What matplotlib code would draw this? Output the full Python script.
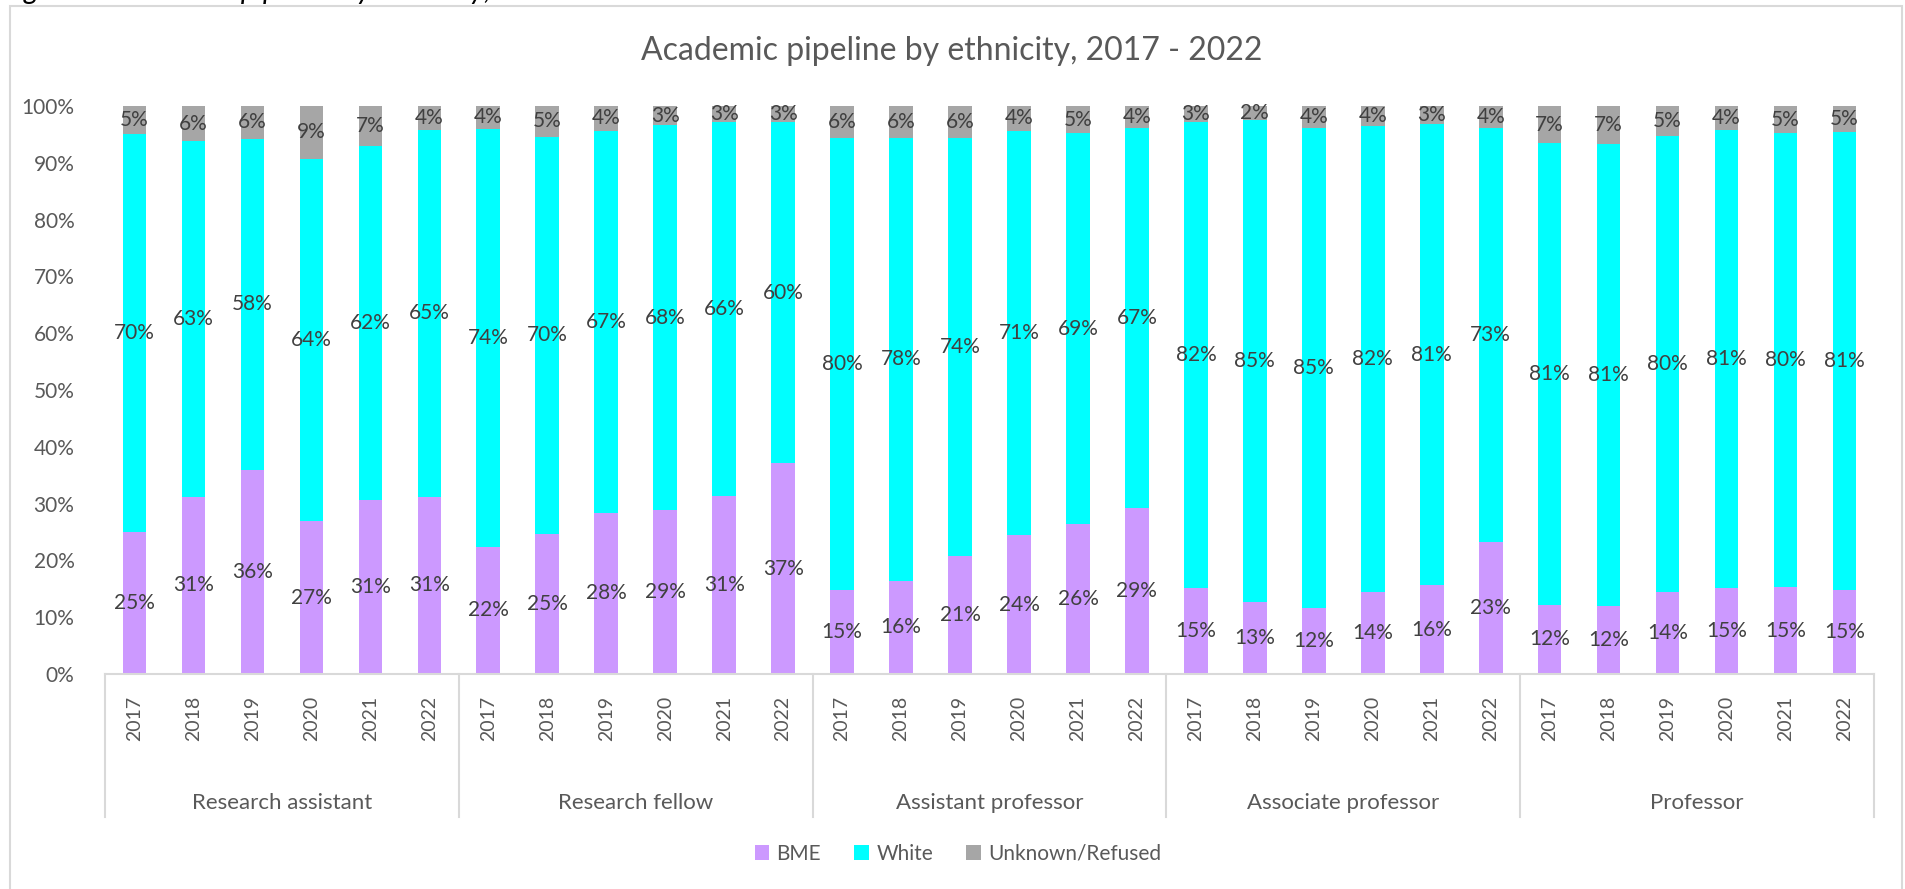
import matplotlib
matplotlib.use("Agg")
import matplotlib.pyplot as plt
from matplotlib.patches import Rectangle, Patch
from matplotlib.lines import Line2D
import numpy as np

plt.rcParams['font.family'] = ['Lato', 'DejaVu Sans']

# ---------------- data ----------------
groups = ["Research assistant", "Research fellow", "Assistant professor",
          "Associate professor", "Professor"]
years = ["2017", "2018", "2019", "2020", "2021", "2022"]
series_names = ["BME", "White", "Unknown/Refused"]

bme = [25.0, 31.2, 36.0, 26.9, 30.7, 31.2,
       22.4, 24.6, 28.4, 28.9, 31.4, 37.1,
       14.8, 16.4, 20.8, 24.4, 26.4, 29.3,
       15.2, 12.6, 11.6, 14.4, 15.6, 23.3,
       12.2, 12.0, 14.4, 15.2, 15.3, 14.8]
white = [70.1, 62.6, 58.2, 63.8, 62.2, 64.6,
         73.6, 70.0, 67.2, 67.7, 65.8, 60.0,
         79.6, 78.0, 73.6, 71.2, 68.8, 66.9,
         81.9, 85.0, 84.6, 82.0, 81.2, 72.9,
         81.2, 81.3, 80.4, 80.6, 79.9, 80.6]
unknown = [4.9, 6.2, 5.8, 9.3, 7.1, 4.2,
           4.0, 5.4, 4.4, 3.4, 2.8, 2.9,
           5.6, 5.6, 5.6, 4.4, 4.8, 3.8,
           2.9, 2.4, 3.8, 3.6, 3.2, 3.8,
           6.6, 6.7, 5.2, 4.2, 4.8, 4.6]

colors = ["#CC99FF", "#00FFFF", "#A6A6A6"]
axis_text = "#595959"
label_text = "#404040"
line_col = "#D9D9D9"

# ---------------- figure ----------------
W, H = 1905, 889
fig = plt.figure(figsize=(W / 100, H / 100), dpi=100)

def fx(px):
    return px / W

def fy(py):
    return 1 - py / H

ax_l, ax_r, ax_t, ax_b = 105, 1874, 106, 674
ax = fig.add_axes([fx(ax_l), fy(ax_b), fx(ax_r) - fx(ax_l), fy(ax_t) - fy(ax_b)])

n = len(bme)
x = np.arange(n)
bw = 0.4
b_arr = np.array(bme)
w_arr = np.array(white)
u_arr = np.array(unknown)

ax.bar(x, b_arr, bw, color=colors[0], zorder=2)
ax.bar(x, w_arr, bw, bottom=b_arr, color=colors[1], zorder=2)
ax.bar(x, u_arr, bw, bottom=b_arr + w_arr, color=colors[2], zorder=2)

lab_fs = 15
for i in range(n):
    for val, base in ((b_arr[i], 0), (w_arr[i], b_arr[i]), (u_arr[i], b_arr[i] + w_arr[i])):
        ax.text(x[i], base + val / 2, f"{val:.0f}%", ha="center", va="center",
                fontsize=lab_fs, color=label_text, zorder=3)

ax.set_xlim(-0.5, n - 0.5)
ax.set_ylim(0, 100)
ax.set_yticks(np.arange(0, 101, 10))
ax.set_yticklabels([f"{v}%" for v in range(0, 101, 10)], fontsize=15, color=axis_text)
ax.tick_params(axis="y", length=0, pad=22)
ax.set_xticks(x)
ax.set_xticklabels(years * len(groups), rotation=90, fontsize=14, color=axis_text)
ax.tick_params(axis="x", length=0, pad=16)
for s in ("top", "right", "left"):
    ax.spines[s].set_visible(False)
ax.spines["bottom"].set_color(line_col)
ax.spines["bottom"].set_linewidth(1.5)

# group separators and labels (multi-level category axis)
sep_bottom = 817
for k in range(len(groups) + 1):
    xs = k * len(years) - 0.5
    xd = ax.transData.transform((xs, 0))[0]
    fig.add_artist(Line2D([xd / W, xd / W], [fy(ax_b), fy(sep_bottom)],
                          color=line_col, lw=1.5, transform=fig.transFigure))
for k, g in enumerate(groups):
    xc = k * len(years) + (len(years) - 1) / 2
    xd = ax.transData.transform((xc, 0))[0]
    fig.text(xd / W, fy(803), g, ha="center", va="center",
             fontsize=16, color=axis_text)

# title
fig.text(fx(952), fy(51), "Academic pipeline by ethnicity, 2017 - 2022",
         ha="center", va="center", fontsize=23, color=axis_text)

# caption of the source page, cut off at the top edge as in the reference
fig.text(fx(2), fy(-1.5), "Figure 4: Academic pipeline by ethnicity, 2017-2022",
         ha="left", va="baseline", fontsize=21, style="italic", color="black")

# chart border
fig.add_artist(Rectangle((fx(10), fy(H + 5)), fx(1902) - fx(10), fy(6) - fy(H + 5),
                         transform=fig.transFigure, fill=False,
                         edgecolor=line_col, lw=1.5))

# legend
handles = [Patch(facecolor=c, edgecolor="none") for c in colors]
leg = fig.legend(handles, series_names, loc="center", bbox_to_anchor=(fx(958), fy(854)),
                 ncol=3, frameon=False, fontsize=15, handlelength=0.7, handleheight=0.7,
                 handletextpad=0.35, columnspacing=1.6)
for t in leg.get_texts():
    t.set_color(axis_text)

fig.savefig("out.png", dpi=100)
